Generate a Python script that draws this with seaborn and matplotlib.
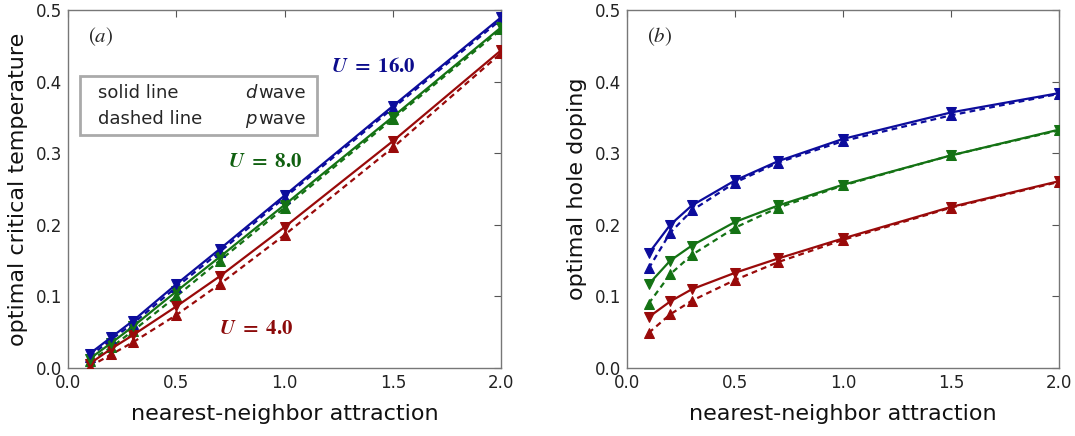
import numpy as np
import pandas as pd
import matplotlib
matplotlib.use("Agg")
import matplotlib.pyplot as plt
import seaborn as sns
from matplotlib.patches import Rectangle

# ---------------- data ----------------
V = [0.1, 0.2, 0.3, 0.5, 0.7, 1.0, 1.5, 2.0]
U_labels = ["U = 4.0", "U = 8.0", "U = 16.0"]

# (a) optimal critical temperature
tc_d_U4 = [0.006, 0.027, 0.046, 0.086, 0.128, 0.197, 0.317, 0.444]
tc_p_U4 = [0.002, 0.019, 0.036, 0.074, 0.117, 0.186, 0.308, 0.440]
tc_d_U8 = [0.013, 0.035, 0.058, 0.107, 0.155, 0.228, 0.351, 0.476]
tc_p_U8 = [0.010, 0.029, 0.052, 0.100, 0.150, 0.224, 0.348, 0.473]
tc_d_U16 = [0.020, 0.043, 0.066, 0.117, 0.166, 0.241, 0.366, 0.490]
tc_p_U16 = [0.016, 0.040, 0.062, 0.113, 0.162, 0.238, 0.363, 0.487]

# (b) optimal hole doping
dop_d_U4 = [0.071, 0.093, 0.110, 0.133, 0.153, 0.181, 0.225, 0.261]
dop_p_U4 = [0.049, 0.075, 0.094, 0.123, 0.148, 0.179, 0.224, 0.260]
dop_d_U8 = [0.117, 0.150, 0.171, 0.204, 0.227, 0.256, 0.297, 0.333]
dop_p_U8 = [0.090, 0.131, 0.158, 0.196, 0.224, 0.255, 0.297, 0.332]
dop_d_U16 = [0.160, 0.200, 0.227, 0.262, 0.289, 0.320, 0.357, 0.384]
dop_p_U16 = [0.139, 0.189, 0.220, 0.259, 0.287, 0.317, 0.353, 0.383]

colors = {"U = 4.0": "#990a0a", "U = 8.0": "#147214", "U = 16.0": "#0c0c9c"}

sns.set_style("white")
plt.rcParams["font.family"] = ["DejaVu Sans"]
plt.rcParams["mathtext.fontset"] = "stix"

fig = plt.figure(figsize=(10.75, 4.36), dpi=100)
axA = fig.add_axes([0.0633, 0.156, 0.403, 0.821])
axB = fig.add_axes([0.5833, 0.156, 0.402, 0.821])

panelA = {"U = 4.0": (tc_d_U4, tc_p_U4), "U = 8.0": (tc_d_U8, tc_p_U8),
          "U = 16.0": (tc_d_U16, tc_p_U16)}
panelB = {"U = 4.0": (dop_d_U4, dop_p_U4), "U = 8.0": (dop_d_U8, dop_p_U8),
          "U = 16.0": (dop_d_U16, dop_p_U16)}

for ax, panel in ((axA, panelA), (axB, panelB)):
    for U in U_labels:
        d_vals, p_vals = panel[U]
        c = colors[U]
        sns.lineplot(x=V, y=p_vals, ax=ax, color=c, linestyle="--", marker="^",
                     markersize=7, markeredgecolor=c, linewidth=1.6, zorder=3)
        ax.lines[-1].set_dashes((2.6, 1.9))
        sns.lineplot(x=V, y=d_vals, ax=ax, color=c, linestyle="-", marker="v",
                     markersize=7, markeredgecolor=c, linewidth=1.6, zorder=4)

for ax in (axA, axB):
    ax.set_xlim(0.0, 2.0)
    ax.set_ylim(0.0, 0.5)
    ax.set_xticks([0.0, 0.5, 1.0, 1.5, 2.0])
    ax.set_yticks([0.0, 0.1, 0.2, 0.3, 0.4, 0.5])
    ax.xaxis.set_major_formatter(matplotlib.ticker.FormatStrFormatter("%.1f"))
    ax.yaxis.set_major_formatter(matplotlib.ticker.FormatStrFormatter("%.1f"))
    ax.tick_params(direction="in", top=True, right=True, length=5, width=0.8,
                   color="#555555", labelsize=12, labelcolor="#222222", pad=4)
    for s in ax.spines.values():
        s.set_color("#777777")
        s.set_linewidth(1.0)
    ax.set_xlabel("nearest-neighbor attraction", fontsize=16, labelpad=9,
                  color="#111111")

axA.set_ylabel("optimal critical temperature", fontsize=16, color="#111111", labelpad=6)
axB.set_ylabel("optimal hole doping", fontsize=16, color="#111111", labelpad=6)

axA.text(0.046, 0.925, r"$(a)$", transform=axA.transAxes, fontsize=15,
         ha="left", va="center")
axB.text(0.046, 0.925, r"$(b)$", transform=axB.transAxes, fontsize=15,
         ha="left", va="center")

axA.text(1.41, 0.422, r"$\mathbfit{U}\ \mathbf{=\ 16.0}$", color="#0c0c8c",
         fontsize=15, ha="center", va="center")
axA.text(0.91, 0.289, r"$\mathbfit{U}\ \mathbf{=\ 8.0}$", color="#106010",
         fontsize=15, ha="center", va="center")
axA.text(0.87, 0.056, r"$\mathbfit{U}\ \mathbf{=\ 4.0}$", color="#8c0a0a",
         fontsize=15, ha="center", va="center")

# annotation box
axA.add_patch(Rectangle((0.028, 0.651), 0.547, 0.165, transform=axA.transAxes,
                        fill=False, edgecolor="#aaaaaa", linewidth=2, zorder=5))
axA.text(0.069, 0.767, "solid line", transform=axA.transAxes, fontsize=13,
         ha="left", va="center")
axA.text(0.069, 0.696, "dashed line", transform=axA.transAxes, fontsize=13,
         ha="left", va="center")
axA.text(0.408, 0.767, "d", transform=axA.transAxes, fontsize=13,
         ha="left", va="center", style="italic")
axA.text(0.408, 0.696, "p", transform=axA.transAxes, fontsize=13,
         ha="left", va="center", style="italic")
axA.text(0.440, 0.767, "wave", transform=axA.transAxes, fontsize=13,
         ha="left", va="center")
axA.text(0.440, 0.696, "wave", transform=axA.transAxes, fontsize=13,
         ha="left", va="center")

fig.savefig("out.png", dpi=100)
